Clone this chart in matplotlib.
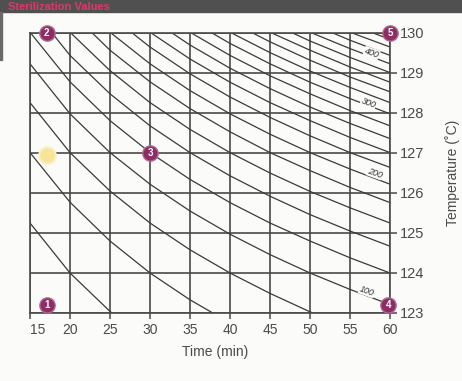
import matplotlib
matplotlib.use("Agg")
import matplotlib.pyplot as plt

# values
time_ticks = [15, 20, 25, 30, 35, 40, 45, 50, 55, 60]
temp_ticks = [123, 124, 125, 126, 127, 128, 129, 130]

# iso-value curves: temperature where each curve crosses the time grid lines
curve_levels = [40, 60, 80, 100, 120, 140, 160, 180, 200, 220, 240, 260,
                280, 300, 320, 340, 360, 380, 400, 420, 440, 460, 480]
curve_temps = [
    [125.25, 124.00, 123.04, 122.24, 121.57, 120.99, 120.48, 120.02, 119.61, 119.23],
    [127.01, 125.77, 124.80, 124.00, 123.33, 122.75, 122.24, 121.79, 121.37, 120.99],
    [128.26, 127.01, 126.05, 125.25, 124.58, 124.00, 123.49, 123.03, 122.62, 122.24],
    [129.23, 127.98, 127.01, 126.22, 125.55, 124.97, 124.46, 124.00, 123.59, 123.21],
    [130.02, 128.78, 127.81, 127.01, 126.34, 125.76, 125.25, 124.80, 124.38, 124.00],
    [130.69, 129.44, 128.48, 127.68, 127.01, 126.43, 125.92, 125.46, 125.05, 124.67],
    [131.27, 130.02, 129.06, 128.26, 127.59, 127.01, 126.50, 126.04, 125.63, 125.25],
    [131.79, 130.54, 129.57, 128.78, 128.11, 127.53, 127.01, 126.56, 126.14, 125.76],
    [132.24, 130.99, 130.02, 129.23, 128.56, 127.98, 127.47, 127.01, 126.60, 126.22],
    [132.66, 131.41, 130.44, 129.65, 128.98, 128.40, 127.89, 127.43, 127.01, 126.64],
    [133.03, 131.79, 130.82, 130.02, 129.35, 128.77, 128.26, 127.81, 127.39, 127.01],
    [133.38, 132.13, 131.16, 130.37, 129.70, 129.12, 128.61, 128.15, 127.74, 127.36],
    [133.70, 132.46, 131.49, 130.69, 130.02, 129.44, 128.93, 128.48, 128.06, 127.68],
    [134.00, 132.75, 131.79, 130.99, 130.32, 129.74, 129.23, 128.77, 128.36, 127.98],
    [134.28, 133.03, 132.07, 131.27, 130.60, 130.02, 129.51, 129.05, 128.64, 128.26],
    [134.55, 133.30, 132.33, 131.54, 130.87, 130.29, 129.78, 129.32, 128.90, 128.53],
    [134.80, 133.55, 132.58, 131.79, 131.12, 130.54, 130.02, 129.57, 129.15, 128.77],
    [135.03, 133.78, 132.81, 132.02, 131.35, 130.77, 130.26, 129.80, 129.39, 129.01],
    [135.25, 134.00, 133.04, 132.24, 131.57, 130.99, 130.48, 130.02, 129.61, 129.23],
    [135.46, 134.22, 133.25, 132.45, 131.78, 131.20, 130.69, 130.24, 129.82, 129.44],
    [135.67, 134.42, 133.45, 132.66, 131.99, 131.41, 130.90, 130.44, 130.02, 129.65],
    [135.86, 134.61, 133.64, 132.85, 132.18, 131.60, 131.09, 130.63, 130.22, 129.84],
    [136.04, 134.80, 133.83, 133.03, 132.36, 131.78, 131.27, 130.82, 130.40, 130.02],
]

# curve labels (value, time, temp)
label_text = ["400", "300", "200", "100"]
label_t = [57.7, 57.3, 58.1, 57.1]
label_T = [129.5, 128.25, 126.5, 123.55]

# numbered markers
point_names = ["1", "2", "3", "4", "5"]
point_t = [17.1, 17.1, 30, 59.8, 60]
point_T = [123.2, 130.0, 127.0, 123.2, 130.0]
yellow_t = 17.1
yellow_T = 126.96

plt.rcParams['font.family'] = ['Liberation Sans', 'DejaVu Sans']

W, H = 462, 381
fig = plt.figure(figsize=(W / 100, H / 100), dpi=100, facecolor='#fbfbf9')

# header strip
fig.patches.append(plt.Rectangle((0, 1 - 12 / H), 1, 12 / H, transform=fig.transFigure,
                                 color='#505050', zorder=0))
fig.patches.append(plt.Rectangle((0, 1 - 60 / H), 2 / W, 48 / H, transform=fig.transFigure,
                                 color='#6a6a6a', zorder=0))
fig.text(8 / W, 1 - 6.5 / H, "Sterilization Values", color='#d93a6a', fontsize=8,
         fontweight='bold', ha='left', va='center')

ax = fig.add_axes([30 / W, 68 / H, 360 / W, 280 / H])
ax.set_facecolor('#fbfbf9')
ax.set_xlim(15, 60)
ax.set_ylim(123, 130)
ax.set_xticks(time_ticks)
ax.set_yticks(temp_ticks)
ax.yaxis.tick_right()
ax.grid(True, color='#4a4a4a', lw=1.2)
for s in ax.spines.values():
    s.set_color('#4a4a4a')
    s.set_linewidth(1.2)
ax.tick_params(axis='x', length=4, width=1.1, color='#4a4a4a', labelsize=10,
               labelcolor='#4a4a4a', pad=3)
ax.tick_params(axis='y', length=5, width=1.1, color='#4a4a4a', labelsize=10.5,
               labelcolor='#4a4a4a', pad=2)
ax.get_xticklabels()[0].set_horizontalalignment('left')

for lvl, row in zip(curve_levels, curve_temps):
    ax.plot(time_ticks, row, color='#3a3a3a', lw=0.9)

for txt, t, T in zip(label_text, label_t, label_T):
    ax.text(t, T, txt, fontsize=6.5, rotation=-20, ha='center', va='center',
            color='#333333', style='italic',
            bbox=dict(facecolor='#fbfbf9', edgecolor='none', pad=0.3))

ax.plot(yellow_t, yellow_T, 'o', ms=12, color='#f6e49a', mec='#fbefc4', mew=1.5,
        clip_on=False, zorder=5)
ax.plot(point_t, point_T, 'o', ms=11, color='#8c2e64', mec='#b0688f', mew=1,
        clip_on=False, zorder=6, lw=0)
for name, t, T in zip(point_names, point_t, point_T):
    ax.text(t, T, name, fontsize=7, color='white', fontweight='bold',
            ha='center', va='center', zorder=7)

fig.text(215 / W, 1 - 352 / H, "Time (min)", ha='center', va='center',
         fontsize=10, color='#4a4a4a')
fig.text(453 / W, 1 - 173 / H, "Temperature (˚C)", ha='center', va='center',
         rotation=90, fontsize=10, color='#4a4a4a')

fig.savefig("out.png", dpi=100, facecolor=fig.get_facecolor())
